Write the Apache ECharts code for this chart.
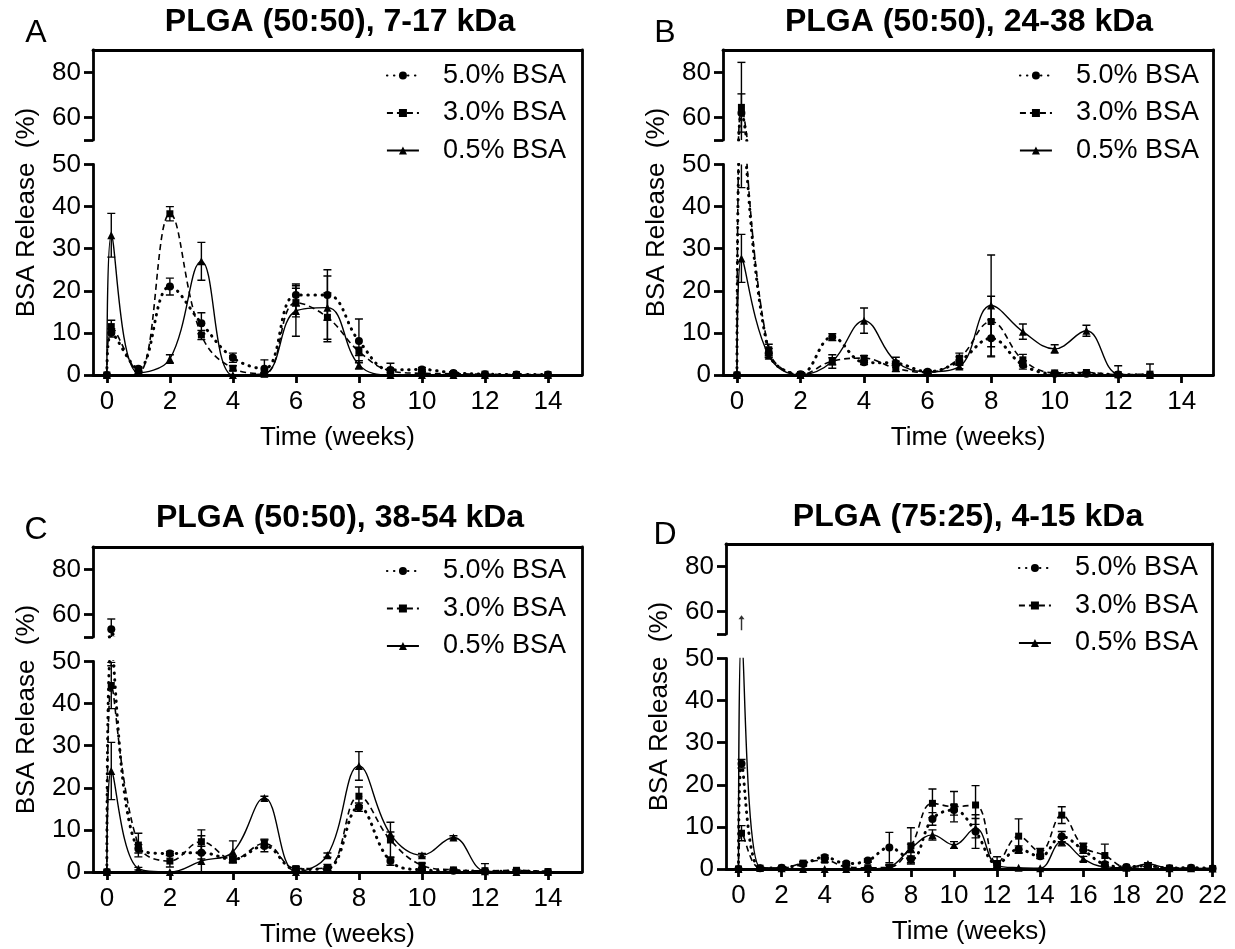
<!DOCTYPE html>
<html><head><meta charset="utf-8">
<script src="https://cdn.jsdelivr.net/npm/echarts@6/dist/echarts.min.js"></script>
<style>html,body{margin:0;padding:0;background:#fff}#c{width:1235px;height:949px}</style>
</head><body><div id="c"></div>
<script>
// ---------------- DATA ----------------
const SERIES_NAMES = ['5.0% BSA', '3.0% BSA', '0.5% BSA'];
const TITLES = ['PLGA (50:50), 7-17 kDa', 'PLGA (50:50), 24-38 kDa', 'PLGA (50:50), 38-54 kDa', 'PLGA (75:25), 4-15 kDa'];
const LETTERS = ['A', 'B', 'C', 'D'];
const Y_NAME = 'BSA Release  (%)';
const X_NAME = 'Time (weeks)';
const X_TICKS_14 = [0, 2, 4, 6, 8, 10, 12, 14];
const X_TICKS_22 = [0, 2, 4, 6, 8, 10, 12, 14, 16, 18, 20, 22];
const Y_TICKS_UPPER = [60, 80];
const Y_BREAK = 50;

// Panel A
const A_T    = [0, 0.14, 1, 2, 3, 4, 5, 6, 7, 8, 9, 10, 11, 12, 13, 14];
const A_5    = [0, 10, 1.5, 21, 12.3, 4.1, 1.5, 19, 19, 8.1, 1.2, 1.3, 0.5, 0.2, 0.1, 0.1];
const A_5E   = [0, 1, 0.5, 2, 2.5, 1.1, 2.1, 2.6, 6, 5.2, 1.6, 0.5, 0.3, 0, 0, 0];
const A_3    = [0, 11.5, 0.5, 38.3, 9.5, 1.6, 0.3, 17.2, 13.7, 5.6, 1.0, 0.4, 0.3, 0.2, 0.1, 0.1];
const A_3E   = [0, 1.5, 0.3, 1.7, 1.1, 0.6, 0.3, 3.4, 5.8, 1, 0.5, 0.3, 0.2, 0.1, 0, 0];
const A_05   = [0, 33.2, 0.5, 3.8, 27, 0, 0.3, 15.2, 16, 2.4, 0, 0, 0, 0, 0, 0];
const A_05E  = [0, 5.2, 0.3, 1, 4.5, 0, 0.3, 6, 7.5, 1, 0, 0, 0, 0, 0, 0];

// Panel B
const B_T    = [0, 0.14, 1, 2, 3, 4, 5, 6, 7, 8, 9, 10, 11, 12, 13];
const B_5    = [0, 62, 5.3, 0.2, 9, 3, 2.8, 0.8, 3.3, 8.7, 2.4, 0.3, 0.3, 0.1, 0];
const B_5E   = [0, 8.5, 1, 0, 0.8, 0.5, 0.5, 0.3, 1, 4.4, 1, 0, 0, 0, 0];
const B_3    = [0, 64.5, 6, 0.1, 3.3, 4, 1.6, 0.6, 4, 12.7, 3.6, 0.5, 0.6, 0.1, 0.2];
const B_3E   = [0, 20, 1.3, 0, 0.8, 0.6, 0.8, 0.3, 1.2, 6, 1.3, 0.2, 0.2, 0, 2.4];
const B_05   = [0, 27.7, 4.6, 0, 3.2, 12.9, 3.2, 0.8, 2, 16.5, 10.3, 6.2, 10.5, 0.2, 0];
const B_05E  = [0, 5.7, 0.5, 0, 1.6, 3, 1, 0.3, 0.5, 12, 1.8, 1, 1.3, 2, 0];

// Panel C
const C_T    = [0, 0.14, 1, 2, 3, 4, 5, 6, 7, 8, 9, 10, 11, 12, 13, 14];
const C_5    = [0, 53.5, 5.5, 4.4, 4.6, 3, 6.2, 0.6, 0.8, 15.4, 2.6, 0.5, 0.3, 0.2, 0.2, 0];
const C_5E   = [0, 4.5, 1, 0.5, 1.5, 0.6, 1.4, 0.3, 0.5, 1, 1, 0.2, 0.2, 0, 0, 0];
const C_3    = [0, 44.3, 6.4, 2.6, 7.2, 3, 6.8, 0.8, 1, 18, 7.6, 1.6, 0.5, 0.3, 0.4, 0.1];
const C_3E   = [0, 5.5, 2.8, 1.4, 2.8, 0.8, 1, 0.5, 0.8, 2.2, 4.2, 0.5, 0.2, 0.1, 0.2, 0];
const C_05   = [0, 24, 0.8, 0, 2.6, 4.8, 17.6, 0, 4, 25.2, 9, 4, 8.2, 0.2, 0, 0];
const C_05E  = [0, 6.8, 0.3, 0, 6, 2.6, 0.4, 0, 0.5, 3.4, 0.5, 0.4, 0.4, 1.8, 0, 0];

// Panel D
const D_T    = [0, 0.14, 1, 2, 3, 4, 5, 6, 7, 8, 9, 10, 11, 12, 13, 14, 15, 16, 17, 18, 19, 20, 21, 22];
const D_5    = [0, 25, 0.2, 0.3, 1.2, 2.8, 1.3, 2, 5.1, 2.3, 11.9, 14, 8.9, 1.2, 4.7, 3, 7.7, 4.5, 1.1, 0.5, 0.8, 0.2, 0.3, 0.1];
const D_5E   = [0, 1, 0, 0, 0.5, 0.5, 0.4, 0.4, 3.6, 0.8, 1.5, 1.2, 4, 0.5, 0.8, 0.5, 1.2, 0.8, 0.5, 0.2, 0.2, 0, 0, 0];
const D_3    = [0, 8.5, 0.2, 0.2, 1.4, 2.1, 0.5, 0.3, 0.4, 5.5, 15.6, 14.8, 15.2, 1.3, 7.8, 4.1, 12.8, 5.3, 3.2, 0.4, 0.6, 0.2, 0.2, 0.1];
const D_3E   = [0, 1.8, 0, 0, 0.4, 0.5, 0.3, 0.2, 0.5, 4.3, 3.4, 3.6, 4.6, 1.6, 4.1, 0.8, 2, 0.8, 2.7, 0.2, 0.3, 0, 0, 0];
const D_05   = [0, 56, 0.3, 0.2, 0, 0, 0, 0, 0.5, 4.9, 8.1, 5.7, 9.7, 0.8, 0.3, 0.2, 6.5, 2.4, 0.5, 0.3, 1.2, 0.2, 0.2, 0.1];
const D_05E  = [0, 0, 0, 0, 0, 0, 0, 0, 0.5, 1, 1.2, 0.8, 2.3, 0.5, 0, 0, 1, 0.6, 0.3, 0, 0.3, 0, 0, 0];
const D_ARROW = [[0.14, 55]];   // off-scale marker for 0.5% BSA at day 1

const PANELS = [
  {t: A_T, v: [A_5, A_3, A_05], e: [A_5E, A_3E, A_05E], upper: [true, true, true], xTicks: X_TICKS_14, xMin: -0.44, xMax: 15.08},
  {t: B_T, v: [B_5, B_3, B_05], e: [B_5E, B_3E, B_05E], upper: [true, true, true], xTicks: X_TICKS_14, xMin: -0.44, xMax: 15.0},
  {t: C_T, v: [C_5, C_3, C_05], e: [C_5E, C_3E, C_05E], upper: [true, true, true], xTicks: X_TICKS_14, xMin: -0.44, xMax: 15.08},
  {t: D_T, v: [D_5, D_3, D_05], e: [D_5E, D_3E, D_05E], upper: [true, true, false], xTicks: X_TICKS_22, xMin: -0.58, xMax: 22, arrow: D_ARROW}
];

// ---------------- LAYOUT / STYLE ----------------
const LAYOUT = [
  {left: 93,  width: 489,   upTop: 50,  lowTop: 164.5, titleX: 340, titleY: 22,  letterX: 36,  letterY: 33,  legRight: 669, legTop: 62},
  {left: 723, width: 490.5, upTop: 50,  lowTop: 164.5, titleX: 969, titleY: 22,  letterX: 665, letterY: 33,  legRight: 36,  legTop: 62},
  {left: 93,  width: 489,   upTop: 547, lowTop: 661.5, titleX: 340, titleY: 518, letterX: 36,  letterY: 530, legRight: 669, legTop: 557.5},
  {left: 726, width: 486.6, upTop: 544, lowTop: 658.5, titleX: 968, titleY: 517, letterX: 665, letterY: 535, legRight: 37,  legTop: 554.5}
];
const UP_H = 90, LOW_H = 210.5;
const FONT = '"Liberation Sans", Arial, Helvetica, sans-serif';
const AXW = 2.8;
const STYLES = [
  {symbol: 'circle', size: 8, line: {type: [0.5, 6.5], width: 3, cap: 'round'}},
  {symbol: 'rect', size: 7, line: {type: [6, 4], width: 1.6}},
  {symbol: 'triangle', size: 8, line: {type: 'solid', width: 1.4}}
];

function errData(t, v, e) {
  const out = [];
  for (let i = 0; i < t.length; i++) if (e[i] > 0) out.push([t[i], v[i] - e[i], v[i] + e[i]]);
  return out;
}
function renderErr(params, api) {
  const x = api.value(0);
  const p1 = api.coord([x, api.value(2)]);
  const p2 = api.coord([x, api.value(1)]);
  const w = 4;
  const st = {stroke: '#000', lineWidth: 1.4};
  return {type: 'group', children: [
    {type: 'line', shape: {x1: p1[0], y1: p1[1], x2: p2[0], y2: p2[1]}, style: st},
    {type: 'line', shape: {x1: p1[0] - w, y1: p1[1], x2: p1[0] + w, y2: p1[1]}, style: st},
    {type: 'line', shape: {x1: p2[0] - w, y1: p2[1], x2: p2[0] + w, y2: p2[1]}, style: st}
  ]};
}

const option = {animation: false, backgroundColor: '#fff', grid: [], xAxis: [], yAxis: [], series: [], legend: [], graphic: []};
const txt = {color: '#000', fontFamily: FONT};

PANELS.forEach((P, idx) => {
  const L = LAYOUT[idx];
  const g0 = idx * 3, x0 = idx * 3, y0 = idx * 4;
  option.grid.push(
    {left: L.left, top: L.upTop, width: L.width, height: UP_H, outerBoundsMode: 'none'},
    {left: L.left, top: L.lowTop, width: L.width, height: LOW_H, outerBoundsMode: 'none'},
    {left: L.left, top: L.upTop, width: L.width, height: L.lowTop + LOW_H - L.upTop, outerBoundsMode: 'none'}
  );
  const axLine = {show: true, onZero: false, lineStyle: {color: '#000', width: AXW}};
  option.xAxis.push(
    {type: 'value', gridIndex: g0, position: 'top', min: P.xMin, max: P.xMax, axisLine: axLine,
     axisTick: {show: false}, axisLabel: {show: false}, splitLine: {show: false}},
    {type: 'value', gridIndex: g0 + 1, position: 'bottom', min: P.xMin, max: P.xMax, axisLine: axLine,
     axisTick: {show: true, length: 8, customValues: P.xTicks, lineStyle: {width: AXW, color: '#000'}},
     axisLabel: {show: true, customValues: P.xTicks, margin: 14, fontSize: 26, ...txt},
     splitLine: {show: false},
     name: X_NAME, nameLocation: 'middle', nameGap: 50, nameTextStyle: {fontSize: 26, ...txt}},
    {type: 'value', gridIndex: g0 + 2, show: false, min: 0, max: 1}
  );
  option.yAxis.push(
    {type: 'value', gridIndex: g0, position: 'left', min: Y_BREAK, max: 90, axisLine: axLine,
     axisTick: {show: true, length: 9, customValues: [Y_BREAK].concat(Y_TICKS_UPPER), lineStyle: {width: AXW, color: '#000'}},
     axisLabel: {show: true, customValues: Y_TICKS_UPPER, margin: 12, fontSize: 26, ...txt},
     splitLine: {show: false}},
    {type: 'value', gridIndex: g0 + 1, position: 'left', min: 0, max: Y_BREAK, interval: 10, axisLine: axLine,
     axisTick: {show: true, length: 9, lineStyle: {width: AXW, color: '#000'}},
     axisLabel: {show: true, margin: 12, fontSize: 26, ...txt},
     splitLine: {show: false}},
    {type: 'value', gridIndex: g0 + 2, position: 'right', min: 0, max: 1, axisLine: axLine,
     axisTick: {show: false}, axisLabel: {show: false}, splitLine: {show: false}},
    {type: 'value', gridIndex: g0 + 2, position: 'left', min: 0, max: 1, axisLine: {show: false},
     axisTick: {show: false}, axisLabel: {show: false}, splitLine: {show: false},
     name: Y_NAME, nameLocation: 'middle', nameGap: 53, nameTextStyle: {fontSize: 26, ...txt}}
  );
  P.v.forEach((vals, k) => {
    const S = STYLES[k];
    const lineData = P.t.map((t, i) => [t, vals[i]]);
    const targets = [[x0 + 1, y0 + 1]];
    if (P.upper[k]) targets.push([x0, y0]);
    targets.forEach(([xi, yi]) => {
      option.series.push({
        type: 'line', name: SERIES_NAMES[k], xAxisIndex: xi, yAxisIndex: yi, data: lineData,
        smooth: 0.4, clip: true, symbol: S.symbol, symbolSize: S.size, showSymbol: true,
        itemStyle: {color: '#000'},
        lineStyle: {color: '#000', width: S.line.width, type: S.line.type, cap: S.line.cap || 'butt'},
        silent: true, z: 3
      });
      option.series.push({
        type: 'custom', name: SERIES_NAMES[k] + ' SD', xAxisIndex: xi, yAxisIndex: yi, clip: true,
        data: errData(P.t, vals, P.e[k]), renderItem: renderErr, silent: true, z: 2
      });
    });
  });
  if (P.arrow) {
    option.series.push({
      type: 'scatter', name: 'arrow', xAxisIndex: x0, yAxisIndex: y0, data: P.arrow,
      symbol: 'path://M5,0 L10,7 L6.2,7 L6.2,26 L3.8,26 L3.8,7 L0,7 Z', symbolSize: [6, 15],
      itemStyle: {color: '#000'}, silent: true, z: 4
    });
  }
  option.legend.push({
    data: SERIES_NAMES, orient: 'vertical', right: L.legRight, top: L.legTop, padding: 0,
    itemWidth: 32, itemHeight: 10, itemGap: 10.5, selectedMode: false, align: 'left',
    textStyle: {fontSize: 27, lineHeight: 27, padding: [0, 0, 0, 19], ...txt}
  });
  option.graphic.push(
    {type: 'text', x: L.titleX, y: L.titleY, style: {text: TITLES[idx], fontSize: 32, fontWeight: 'bold', fontFamily: FONT, fill: '#000', align: 'center', verticalAlign: 'middle'}},
    {type: 'text', x: L.letterX, y: L.letterY, style: {text: LETTERS[idx], fontSize: 32, fontFamily: FONT, fill: '#000', align: 'center', verticalAlign: 'middle'}}
  );
});

const chart = echarts.init(document.getElementById('c'), null, {renderer: 'canvas', width: 1235, height: 949});
chart.setOption(option);
</script>
</body></html>
